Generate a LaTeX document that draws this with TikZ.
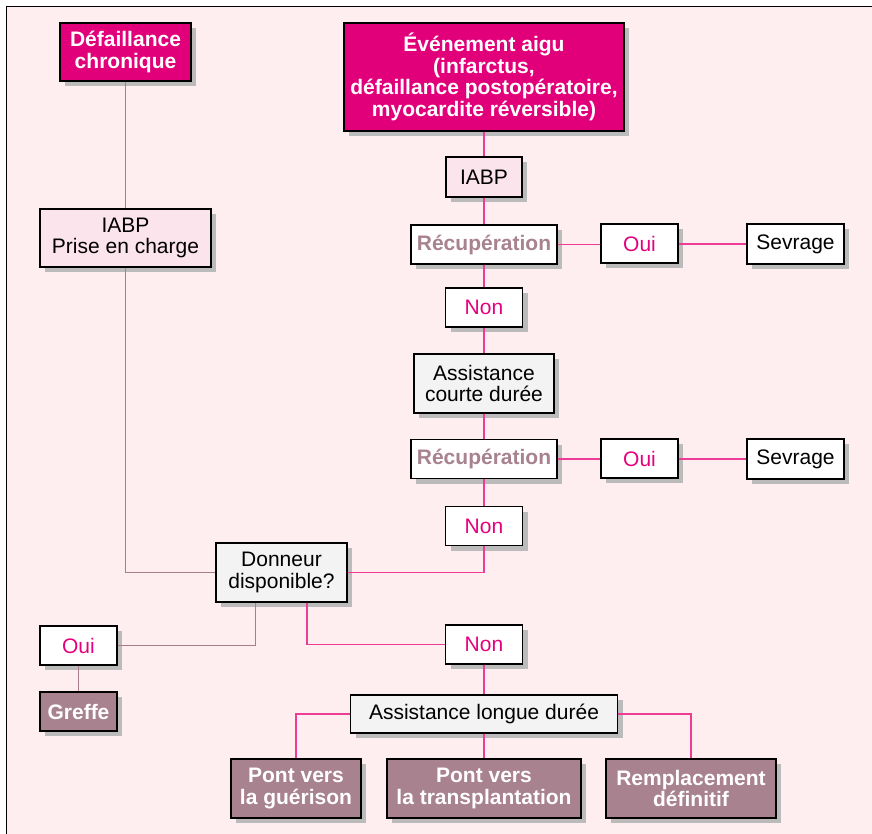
\documentclass[tikz,border=0pt]{standalone}
\usepackage{fontspec}
\setmainfont{Liberation Sans}
\usetikzlibrary{shadows}
\definecolor{bgpink}{HTML}{FFEEF0}
\definecolor{magfill}{HTML}{E2007A}
\definecolor{magline}{HTML}{EC3C96}
\definecolor{mauvefill}{HTML}{A8828E}
\definecolor{mauveline}{HTML}{A87E8E}
\definecolor{pinkfill}{HTML}{FCE4EC}
\definecolor{boxgray}{HTML}{F3F3F3}
\definecolor{shadowc}{HTML}{BBBBBB}
\definecolor{ontext}{HTML}{E6007E}
\definecolor{rectext}{HTML}{A8828F}
\begin{document}
\begin{tikzpicture}[x=1pt,y=-1pt,
  font=\fontsize{21}{21.7}\selectfont,
  box/.style={draw=black,line width=1.2pt,rectangle,inner sep=0pt,align=center,
    drop shadow={shadow xshift=5pt,shadow yshift=-5pt,fill=shadowc,opacity=1}},
  magbox/.style={box,fill=magfill,text=white,font=\fontsize{21}{21.7}\selectfont\bfseries},
  mauvebox/.style={box,fill=mauvefill,text=white,font=\fontsize{21}{21.7}\selectfont\bfseries},
  pinkbox/.style={box,fill=pinkfill},
  graybox/.style={box,fill=boxgray},
  whitebox/.style={box,fill=white},
  answer/.style={box,fill=white,text=ontext,minimum width=77pt,minimum height=39pt},
  recbox/.style={box,fill=white,text=rectext,font=\fontsize{21}{21.7}\selectfont\bfseries,minimum width=146pt,minimum height=39pt},
  sevbox/.style={box,fill=white,minimum width=97pt,minimum height=40pt},
  mline/.style={draw=magline,line width=1.5pt},
  cline/.style={draw=mauveline,line width=1pt}]
\useasboundingbox (0,0) rectangle (872,834);
\fill[white] (0,0) rectangle (872,834);
\fill[bgpink] (6.5,6.5) rectangle (872,834);
\draw[line width=1.5pt] (6.5,834) -- (6.5,6.5) -- (872,6.5);

\node[magbox,minimum width=131pt,minimum height=58pt] (dc) at (125.5,52) {Défaillance\\chronique};
\node[pinkbox,minimum width=171pt,minimum height=58pt] (iabpL) at (125.5,238) {IABP\\Prise en charge};
\node[magbox,minimum width=280pt,minimum height=108pt] (ev) at (484,77) {Événement aigu\\(infarctus,\\défaillance postopératoire,\\myocardite réversible)};
\node[pinkbox,minimum width=76pt,minimum height=40pt] (iabpR) at (484,177) {IABP};
\node[recbox] (rec1) at (484,244.5) {Récupération};
\node[answer] (oui1) at (639.5,243.5) {Oui};
\node[sevbox] (sev1) at (795.5,244) {Sevrage};
\node[answer] (non1) at (484,307.5) {Non};
\node[graybox,minimum width=140pt,minimum height=59pt] (acd) at (484,383.5) {Assistance\\courte durée};
\node[recbox] (rec2) at (484,459) {Récupération};
\node[answer] (oui2) at (639.5,458.5) {Oui};
\node[sevbox] (sev2) at (795.5,459) {Sevrage};
\node[answer] (non2) at (484,526) {Non};
\node[graybox,minimum width=131pt,minimum height=59pt] (don) at (281.5,572.5) {Donneur\\disponible?};
\node[answer] (ouiL) at (78.5,645.5) {Oui};
\node[mauvebox,minimum width=77pt,minimum height=39pt] (greffe) at (78.5,711.5) {Greffe};
\node[answer] (non3) at (484,644.5) {Non};
\node[graybox,minimum width=267pt,minimum height=38pt] (ald) at (484,714) {Assistance longue durée};
\node[mauvebox,minimum width=130pt,minimum height=59pt] (p1) at (296,788.5) {Pont vers\\la guérison};
\node[mauvebox,minimum width=194pt,minimum height=59pt] (p2) at (484,788.5) {Pont vers\\la transplantation};
\node[mauvebox,minimum width=170pt,minimum height=59pt] (p3) at (691,788.5) {Remplacement\\définitif};

% chronic path
\draw[cline] (dc.south) -- (iabpL.north);
\draw[cline] (iabpL.south) |- (don.west);
\draw[cline] ([xshift=-26.5pt]don.south) |- (ouiL.east);
\draw[cline] (ouiL.south) -- (greffe.north);

% acute path
\draw[mline] (ev.south) -- (iabpR.north);
\draw[mline] (iabpR.south) -- (rec1.north);
\draw[mline] (rec1.east) -- (oui1.west |- rec1.east);
\draw[mline] (oui1.east |- sev1.west) -- (sev1.west);
\draw[mline] (rec1.south) -- (non1.north);
\draw[mline] (non1.south) -- (acd.north);
\draw[mline] (acd.south) -- (rec2.north);
\draw[mline] (rec2.east) -- (oui2.west |- rec2.east);
\draw[mline] (oui2.east |- sev2.west) -- (sev2.west);
\draw[mline] (rec2.south) -- (non2.north);
\draw[mline] (don.east) -| (non2.south);
\draw[mline] ([xshift=25.5pt]don.south) |- (non3.west);
\draw[mline] (non3.south) -- (ald.north);
\draw[mline] (ald.west) -| (p1.north);
\draw[mline] (ald.south) -- (p2.north);
\draw[mline] (ald.east) -| (p3.north);
\end{tikzpicture}
\end{document}
